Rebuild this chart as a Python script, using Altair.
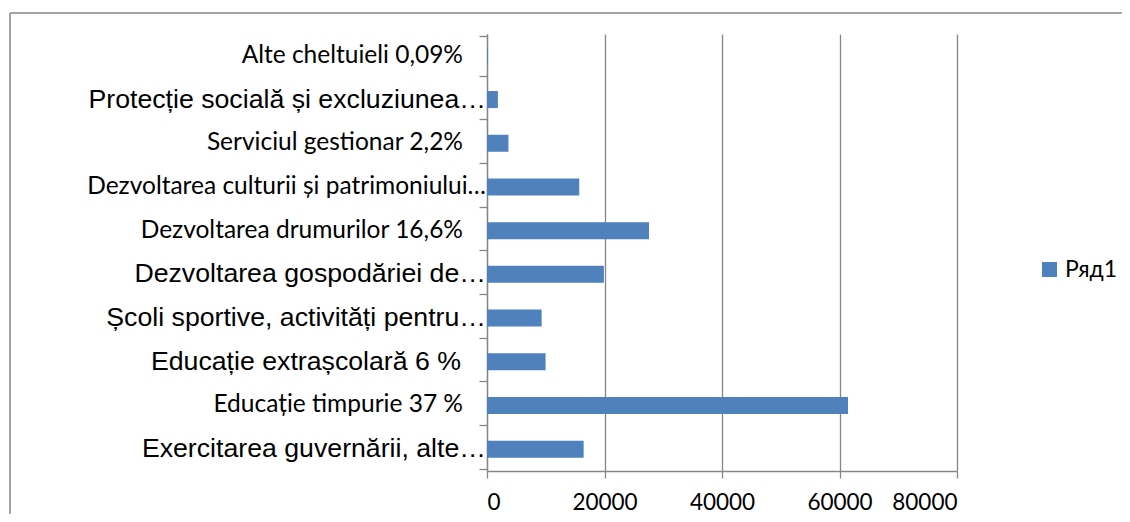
import altair as alt
import pandas as pd

labels = [
    "Alte cheltuieli 0,09%",
    "Protecție socială și excluziunea…",
    "Serviciul gestionar 2,2%",
    "Dezvoltarea culturii și patrimoniului…",
    "Dezvoltarea drumurilor 16,6%",
    "Dezvoltarea gospodăriei de…",
    "Școli sportive, activități pentru…",
    "Educație extrașcolară 6 %",
    "Educație timpurie 37 %",
    "Exercitarea guvernării, alte…",
]
values = [150, 1850, 3650, 15700, 27570, 19900, 9300, 9970, 61450, 16450]
label_font = ["cal", "ari", "cal", "cal", "cal", "ari", "ari", "ari", "cal", "ari"]
truncated = [False, True, False, True, False, True, True, False, False, True]
series = ["Ряд1"] * len(labels)
x_ticks = [0, 20000, 40000, 60000, 80000]

df = pd.DataFrame({"cat": labels, "val": values, "font": label_font,
                   "trunc": truncated, "series": series})

CAL = "Lato"
ARI = "Liberation Sans"
GRAY = "#868686"
BLUE = "#4F81BD"

y_enc = alt.Y("cat:N", sort=labels,
              axis=alt.Axis(labels=False, title=None, tickBand="extent",
                            tickSize=8, tickColor=GRAY, domainColor=GRAY,
                            tickWidth=1.3, domainWidth=1.3))

bars = alt.Chart(df).mark_bar(size=17).encode(
    x=alt.X("val:Q", scale=alt.Scale(domain=[0, 80000], nice=False),
            axis=alt.Axis(values=x_ticks, format="d", title=None, grid=True,
                          gridColor=GRAY, gridWidth=1.3, tickColor=GRAY,
                          domainColor=GRAY, tickSize=7, tickWidth=1.3,
                          domainWidth=1.3, labelFont=CAL, labelFontSize=22.5,
                          labelColor="#000000", labelPadding=13)),
    y=y_enc,
    color=alt.Color("series:N", scale=alt.Scale(range=[BLUE]),
                    legend=alt.Legend(title=None, orient="none", legendX=551,
                                      legendY=224, symbolType="square",
                                      symbolSize=225, symbolStrokeWidth=0,
                                      labelFont=CAL, labelFontSize=23,
                                      labelColor="#000000", labelOffset=4,
                                      padding=0)),
)

def text_layer(font_key, trunc, font, size, dx):
    return alt.Chart(df).transform_filter(
        (alt.datum.font == font_key) & (alt.datum.trunc == trunc)
    ).mark_text(align="right", baseline="middle", font=font, fontSize=size,
                dx=dx, color="#000000").encode(
        y=alt.Y("cat:N", sort=labels), x=alt.value(0), text="cat:N")

t1 = text_layer("cal", False, CAL, 24.5, -24)
t2 = text_layer("cal", True, CAL, 24.5, -1)
t3 = text_layer("ari", False, ARI, 26.7, -26)
t4 = text_layer("ari", True, ARI, 26.7, -1)

frame_top = alt.Chart(pd.DataFrame({"a": [0]})).mark_rule(
    stroke=GRAY, strokeWidth=1.5, clip=False).encode(
    x=alt.value(-477), x2=alt.value(636), y=alt.value(-21))
frame_left = alt.Chart(pd.DataFrame({"a": [0]})).mark_rule(
    stroke=GRAY, strokeWidth=1.5, clip=False).encode(
    x=alt.value(-477), y=alt.value(-21), y2=alt.value(480))

chart = alt.layer(frame_top, frame_left, bars, t1, t2, t3, t4).properties(
    width=470, height=437,
    autosize=alt.AutoSizeParams(type="none"),
    padding={"left": 479, "top": 26, "right": 165, "bottom": 43},
).configure_view(stroke=None)

chart.save("out.html", embed_options={"renderer": "svg", "actions": False})
